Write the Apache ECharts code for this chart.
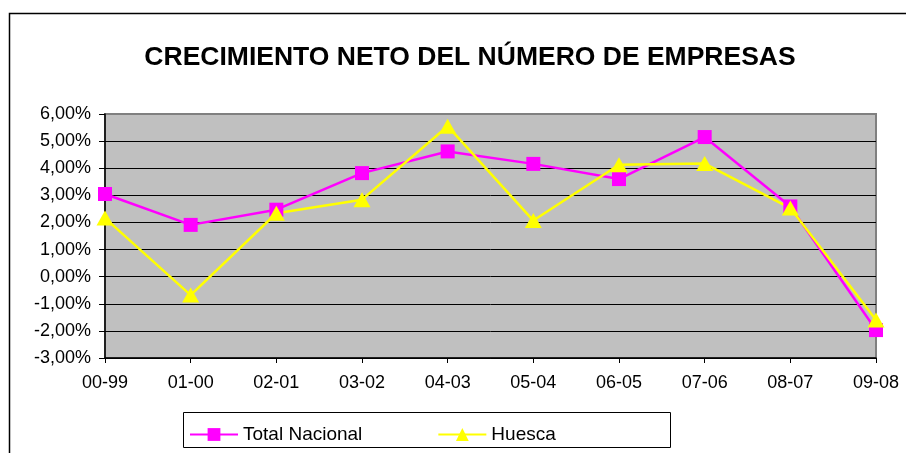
<!DOCTYPE html>
<html>
<head>
<meta charset="utf-8">
<script src="https://cdn.jsdelivr.net/npm/echarts@6/dist/echarts.min.js"></script>
<style>html,body{margin:0;padding:0;background:#fff}#c{width:906px;height:453px}</style>
</head>
<body>
<div id="c"></div>
<script>
const categories = ['00-99','01-00','02-01','03-02','04-03','05-04','06-05','07-06','08-07','09-08'];
const totalNacional = [3.05, 1.91, 2.47, 3.82, 4.62, 4.16, 3.60, 5.15, 2.59, -1.97];
const huesca = [2.16, -0.68, 2.34, 2.84, 5.55, 2.07, 4.13, 4.17, 2.53, -1.60];
const yTicks = [-3, -2, -1, 0, 1, 2, 3, 4, 5, 6];

const font = 'Arial, "Liberation Sans", sans-serif';
const chart = echarts.init(document.getElementById('c'), null, {renderer: 'canvas'});
const splitColors = yTicks.map((v, i) => i === yTicks.length - 1 ? '#808080' : '#000');
chart.setOption({
  animation: false,
  backgroundColor: '#fff',
  title: {
    text: 'CRECIMIENTO NETO DEL NÚMERO DE EMPRESAS',
    left: 465, top: 39, textAlign: 'center',
    textStyle: {fontFamily: font, fontWeight: 'bold', fontSize: 26.5, color: '#000'}
  },
  grid: {
    left: 105, right: 30, top: 114, bottom: 95,
    show: true, backgroundColor: '#C0C0C0', borderColor: '#808080', borderWidth: 2
  },
  xAxis: {
    type: 'category', data: categories, boundaryGap: false,
    axisLine: {onZero: false, lineStyle: {color: '#000', width: 1.5}},
    axisTick: {show: true, length: 5, lineStyle: {color: '#000'}},
    axisLabel: {fontFamily: font, fontSize: 18, color: '#000', margin: 16}
  },
  yAxis: {
    type: 'value', min: yTicks[0], max: yTicks[yTicks.length - 1], interval: 1,
    axisLine: {show: true, lineStyle: {color: '#000', width: 1.5}},
    axisTick: {show: true, length: 6, lineStyle: {color: '#000'}},
    axisLabel: {fontFamily: font, fontSize: 18, color: '#000', margin: 14,
      formatter: v => v.toFixed(2).replace('.', ',') + '%'},
    splitLine: {show: true, lineStyle: {color: splitColors, width: 1}}
  },
  legend: {
    left: 184, top: 420, itemWidth: 48, itemHeight: 16, itemGap: 75,
    textStyle: {fontFamily: font, fontSize: 19, color: '#000'},
    data: ['Total Nacional', 'Huesca']
  },
  graphic: [
    {type: 'rect', shape: {x: 9.5, y: 13.5, width: 1000, height: 1000},
     style: {fill: 'none', stroke: '#000', lineWidth: 1.5}, z: 100},
    {type: 'rect', shape: {x: 183.5, y: 412.5, width: 487, height: 35},
     style: {fill: 'none', stroke: '#000', lineWidth: 1}, z: 100}
  ],
  series: [
    {name: 'Total Nacional', type: 'line', data: totalNacional,
     symbol: 'rect', symbolSize: 14,
     lineStyle: {color: '#FF00FF', width: 2.5}, itemStyle: {color: '#FF00FF'}},
    {name: 'Huesca', type: 'line', data: huesca,
     symbol: 'triangle', symbolSize: [17, 15],
     lineStyle: {color: '#FFFF00', width: 2.5}, itemStyle: {color: '#FFFF00'}}
  ]
});
</script>
</body>
</html>
